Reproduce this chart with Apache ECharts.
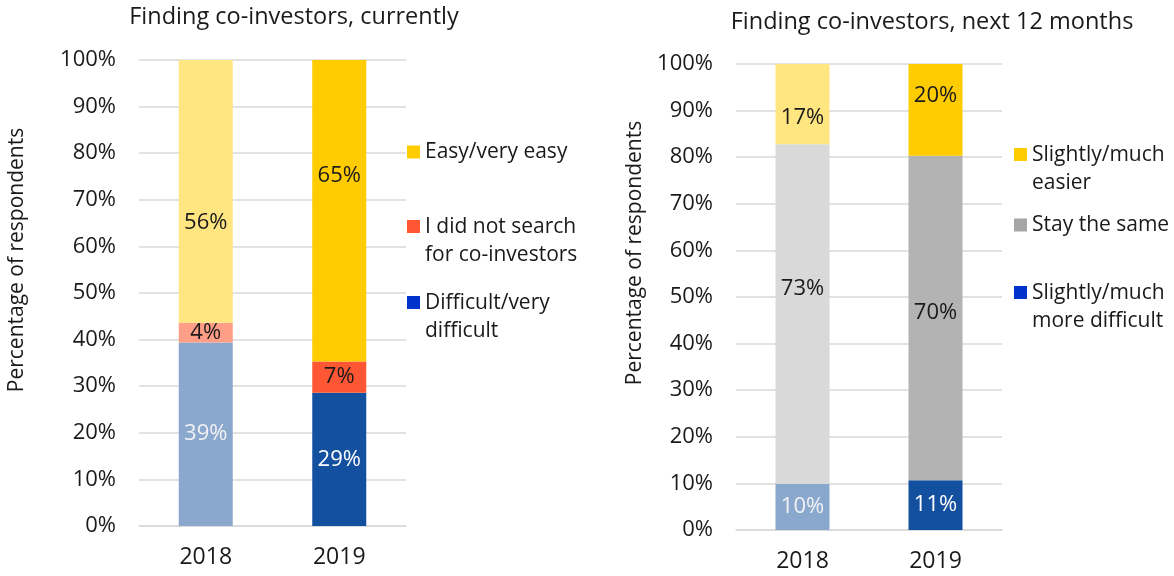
<!DOCTYPE html>
<html lang="en">
<head>
<meta charset="UTF-8">
<title>Finding co-investors</title>
<style>
  html, body { margin: 0; padding: 0; background: #fff; }
  #main { width: 1174px; height: 576px; }
</style>
</head>
<body>
<div id="main"></div>
<script src="https://cdn.jsdelivr.net/npm/echarts@6/dist/echarts.min.js"></script>
<script>
// data (percent of respondents)
var years = ['2018', '2019'];
var yTicks = [0, 10, 20, 30, 40, 50, 60, 70, 80, 90, 100];

// currently
var difficultNow = [39.4, 28.6];
var noSearchNow = [4.2, 6.7];
var easyNow = [56.4, 64.7];

// next 12 months
var harderNext = [9.9, 10.7];
var sameNext = [72.9, 69.6];
var easierNext = [17.2, 19.7];

var FONT = 'Open Sans';
var TXT = '#1a1a1a';
var GRID_LINE = '#d9d9d9';

// square sitting at the top of a tall box, so a two-line name lines up with its first line
var TOP_SQUARE = 'path://M0,0H13V13H0Z M0,42L13,42';

// per-year colours: 2018 pale, 2019 strong
function barData(values, colors, labelColors, nudges) {
  return values.map(function (v, i) {
    return {
      value: v,
      itemStyle: { color: colors[i] },
      label: { color: labelColors[i], offset: [0, nudges ? nudges[i] : 0] }
    };
  });
}

function barSeries(name, axisIdx, stack, legendColor, data) {
  return {
    name: name,
    type: 'bar',
    stack: stack,
    xAxisIndex: axisIdx,
    yAxisIndex: axisIdx,
    barWidth: 54,
    itemStyle: { color: legendColor },
    label: {
      show: true,
      position: 'inside',
      fontFamily: FONT,
      fontSize: 22,
      formatter: function (p) { return Math.round(p.value) + '%'; }
    },
    data: data
  };
}

function xAx(gridIdx) {
  return {
    type: 'category',
    gridIndex: gridIdx,
    data: years,
    axisTick: { show: false },
    axisLine: { lineStyle: { color: GRID_LINE, width: 1.5 } },
    axisLabel: { color: TXT, fontFamily: FONT, fontSize: 23, margin: 20 }
  };
}

function yAx(gridIdx, nameGap, namePad) {
  return {
    type: 'value',
    gridIndex: gridIdx,
    min: 0, max: 100, interval: 10,
    name: 'Percentage of respondents',
    nameLocation: 'middle',
    nameGap: nameGap,
    nameTextStyle: { color: TXT, fontFamily: FONT, fontSize: 21, padding: [0, 0, 0, namePad] },
    axisLine: { show: false },
    axisTick: { show: false },
    splitLine: { lineStyle: { color: GRID_LINE, width: 1.5 } },
    axisLabel: {
      color: TXT, fontFamily: FONT, fontSize: 22, margin: 23,
      formatter: function (v) { return yTicks.indexOf(v) >= 0 ? v + '%' : ''; }
    }
  };
}

function legendAt(name, left, top, twoLine) {
  return {
    data: [name],
    orient: 'vertical',
    left: left,
    top: top,
    padding: 0,
    itemWidth: 13,
    itemHeight: twoLine ? 42 : 13,
    selectedMode: false,
    icon: twoLine ? TOP_SQUARE : 'rect',
    textStyle: { color: TXT, fontFamily: FONT, fontSize: 21, lineHeight: 28 }
  };
}

var chart = echarts.init(document.getElementById('main'));

var option = {
  animation: false,
  title: [
    { text: 'Finding co-investors, currently', left: 289, top: 0, textAlign: 'center',
      textStyle: { color: TXT, fontFamily: FONT, fontSize: 23.5, fontWeight: 'normal' } },
    { text: 'Finding co-investors, next 12 months', left: 927, top: 5, textAlign: 'center',
      textStyle: { color: TXT, fontFamily: FONT, fontSize: 23.5, fontWeight: 'normal' } }
  ],
  legend: [
    legendAt('Easy/very easy', 407, 138, false),
    legendAt('I did not search\nfor co-investors', 407, 213, true),
    legendAt('Difficult/very\ndifficult', 407, 289, true),
    legendAt('Slightly/much\neasier', 1014, 141, true),
    legendAt('Stay the same', 1014, 211, false),
    legendAt('Slightly/much\nmore difficult', 1014, 279, true)
  ],
  grid: [
    { left: 139, top: 60, width: 267, height: 466 },
    { left: 736, top: 64, width: 266, height: 466 }
  ],
  xAxis: [xAx(0), xAx(1)],
  yAxis: [yAx(0, 111, 66), yAx(1, 90, 88)],
  series: [
    barSeries('Difficult/very\ndifficult', 0, 'now', '#0033cc',
      barData(difficultNow, ['#8aa8ce', '#1450a0'], ['#f2f2f2', '#ffffff'])),
    barSeries('I did not search\nfor co-investors', 0, 'now', '#ff5733',
      barData(noSearchNow, ['#ff9e86', '#ff5733'], [TXT, TXT])),
    barSeries('Easy/very easy', 0, 'now', '#ffcc00',
      barData(easyNow, ['#ffe680', '#ffcc00'], [TXT, TXT], [31, -35])),
    barSeries('Slightly/much\nmore difficult', 1, 'next', '#0033cc',
      barData(harderNext, ['#8aa8ce', '#1450a0'], ['#f2f2f2', '#ffffff'])),
    barSeries('Stay the same', 1, 'next', '#a6a6a6',
      barData(sameNext, ['#d9d9d9', '#b3b3b3'], [TXT, TXT], [-25, -5])),
    barSeries('Slightly/much\neasier', 1, 'next', '#ffcc00',
      barData(easierNext, ['#ffe680', '#ffcc00'], [TXT, TXT], [14, -14]))
  ]
};

chart.setOption(option);
</script>
</body>
</html>
